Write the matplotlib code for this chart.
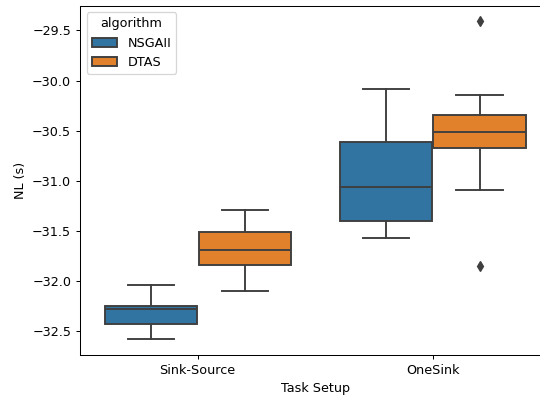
import matplotlib
matplotlib.use("Agg")
import matplotlib.pyplot as plt
from matplotlib.patches import Patch
import colorsys
import matplotlib.colors as mcolors

# Summary statistics of NL (s) per task setup and algorithm
tasks = ["Sink-Source", "OneSink"]
algorithms = ["NSGAII", "DTAS"]

nsgaii_whislo = [-32.573, -31.572]
nsgaii_q1 = [-32.43, -31.40]
nsgaii_med = [-32.28, -31.057]
nsgaii_q3 = [-32.247, -30.615]
nsgaii_whishi = [-32.033, -30.083]
nsgaii_fliers = [[], []]

dtas_whislo = [-32.097, -31.093]
dtas_q1 = [-31.84, -30.675]
dtas_med = [-31.69, -30.515]
dtas_q3 = [-31.506, -30.339]
dtas_whishi = [-31.29, -30.14]
dtas_fliers = [[], [-29.41, -31.85]]


def desaturate(color, prop):
    r, g, b = mcolors.to_rgb(color)
    h, l, s = colorsys.rgb_to_hls(r, g, b)
    return colorsys.hls_to_rgb(h, l, s * prop)


palette = [desaturate("#1f77b4", 0.75), desaturate("#ff7f0e", 0.75)]
edge = "#3f3f3f"

series = {
    "NSGAII": (nsgaii_whislo, nsgaii_q1, nsgaii_med, nsgaii_q3, nsgaii_whishi, nsgaii_fliers),
    "DTAS": (dtas_whislo, dtas_q1, dtas_med, dtas_q3, dtas_whishi, dtas_fliers),
}

DPI = 92
fig = plt.figure(figsize=(540 / DPI, 397 / DPI), dpi=DPI)
ax = fig.add_axes([0.1485, 0.1058, 0.870, 0.880])

offsets = [-0.2, 0.2]
box_w = 0.4 * 0.98
for k, alg in enumerate(algorithms):
    lo, q1, med, q3, hi, fl = series[alg]
    stats = [
        dict(whislo=lo[i], q1=q1[i], med=med[i], q3=q3[i], whishi=hi[i], fliers=fl[i])
        for i in range(len(tasks))
    ]
    positions = [i + offsets[k] for i in range(len(tasks))]
    ax.bxp(
        stats, positions=positions, widths=box_w, patch_artist=True,
        boxprops=dict(facecolor=palette[k], edgecolor=edge, linewidth=1.5),
        medianprops=dict(color=edge, linewidth=1.5),
        whiskerprops=dict(color=edge, linewidth=1.5),
        capprops=dict(color=edge, linewidth=1.5),
        flierprops=dict(marker="d", markersize=5, markerfacecolor=edge,
                        markeredgecolor=edge, linestyle="none"),
        manage_ticks=False,
    )

ax.set_xlim(-0.5, 1.5)
ax.set_ylim(-32.735, -29.253)
ax.set_xticks(range(len(tasks)))
ax.set_xticklabels(tasks)
ax.set_yticks([-32.5, -32.0, -31.5, -31.0, -30.5, -30.0, -29.5])
ax.set_xlabel("Task Setup")
ax.set_ylabel("NL (s)")

handles = [Patch(facecolor=palette[k], edgecolor=edge, linewidth=1.5, label=alg)
           for k, alg in enumerate(algorithms)]
ax.legend(handles=handles, title="algorithm", loc="upper left")

fig.savefig("out.png", dpi=DPI)
